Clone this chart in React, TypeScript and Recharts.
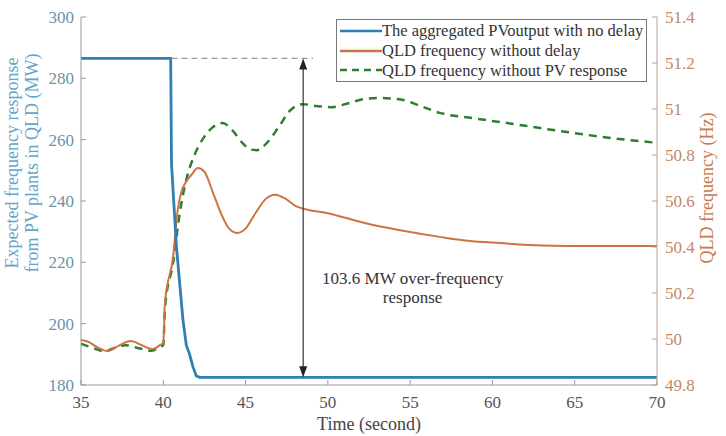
import React from 'react';
import { ComposedChart, Line, XAxis, YAxis, ReferenceLine, ReferenceDot, Legend } from 'recharts';

const X_TICKS = [35, 40, 45, 50, 55, 60, 65, 70];
const MW_TICKS = [180, 200, 220, 240, 260, 280, 300];
const HZ_TICKS = [49.8, 50, 50.2, 50.4, 50.6, 50.8, 51, 51.2, 51.4];

// Aggregated PV output (MW)
const PV_T = [35, 40.45, 40.5, 40.8, 41.0, 41.2, 41.4, 41.6, 41.8, 42.0, 42.2, 70];
const PV_MW = [286.5, 286.5, 252, 225, 213, 201, 193, 190, 186, 183, 182.5, 182.5];

// QLD frequency without delay (Hz)
const QLD_T = [35, 35.4, 36.0, 36.6, 37.3, 38.0, 38.7, 39.3, 39.8, 40.0, 40.1, 40.6, 40.85, 41.1, 41.35, 41.7, 42.1, 42.5, 43.0, 43.5, 44.0, 44.5, 45.0, 45.6, 46.2, 46.8, 47.4, 48.0, 48.9, 50, 51, 52.5, 54.4, 56.8, 58.5, 60.5, 63, 66, 70];
const QLD_HZ = [49.996, 49.989, 49.964, 49.948, 49.971, 49.991, 49.973, 49.956, 49.973, 49.983, 50.156, 50.36, 50.547, 50.64, 50.68, 50.713, 50.743, 50.727, 50.64, 50.547, 50.48, 50.461, 50.48, 50.547, 50.607, 50.627, 50.611, 50.58, 50.56, 50.547, 50.528, 50.5, 50.473, 50.444, 50.427, 50.417, 50.407, 50.404, 50.404];

// QLD frequency without PV response (Hz)
const NOPV_T = [35, 35.6, 36.4, 37.0, 37.7, 38.5, 39.3, 39.8, 40.0, 40.1, 40.6, 41.0, 41.4, 41.9, 42.5, 43.0, 43.6, 44.2, 44.8, 45.3, 45.7, 46.3, 47.0, 47.7, 48.5, 49.3, 50.2, 51.2, 52.2, 53.2, 54.5, 55.7, 56.8, 58.8, 60.9, 62.9, 64.9, 67.3, 70];
const NOPV_HZ = [49.98, 49.964, 49.947, 49.96, 49.973, 49.96, 49.949, 49.967, 49.973, 50.133, 50.333, 50.547, 50.693, 50.8, 50.88, 50.92, 50.939, 50.907, 50.853, 50.824, 50.821, 50.853, 50.92, 50.993, 51.021, 51.013, 51.008, 51.024, 51.043, 51.048, 51.04, 51.011, 50.983, 50.96, 50.939, 50.917, 50.896, 50.873, 50.853];

// Annotation values
const PV_BEFORE = 286.5;
const PV_AFTER = 182.5;
const ARROW_T = 48.5;
const DASH_START_T = 40.5;
const DASH_END_T = 49.1;
const NOTE_T = 55.15;
const NOTE_MW = 212.3;
const NOTE_LINES = ['103.6 MW over-frequency', 'response'];

const SERIES_NAMES = ['The aggregated PVoutput with no delay', 'QLD frequency without delay', 'QLD frequency without PV response'];
const BLUE = '#2f7fb3';
const ORANGE = '#cc7443';
const GREEN = '#2e7d32';

const pvData = PV_T.map((t, i) => ({ t, v: PV_MW[i] }));
const qldData = QLD_T.map((t, i) => ({ t, v: QLD_HZ[i] }));
const nopvData = NOPV_T.map((t, i) => ({ t, v: NOPV_HZ[i] }));

const FONT = '"Liberation Serif", serif';

const ArrowShape = (p: any) => {
  const x = p.x1;
  const yTop = Math.min(p.y1, p.y2);
  const yBot = Math.max(p.y1, p.y2);
  return (
    <g>
      <line x1={x} y1={yTop + 2} x2={x} y2={yBot - 2} stroke="#333" strokeWidth={1.2} />
      <polygon points={`${x},${yTop} ${x - 4},${yTop + 11} ${x + 4},${yTop + 11}`} fill="#222" />
      <polygon points={`${x},${yBot} ${x - 4},${yBot - 11} ${x + 4},${yBot - 11}`} fill="#222" />
    </g>
  );
};

const NoteShape = (p: any) => (
  <text x={p.cx} y={p.cy} textAnchor="middle" fontFamily={FONT} fontSize={17} fill="#333">
    <tspan x={p.cx} dy={-2}>{NOTE_LINES[0]}</tspan>
    <tspan x={p.cx} dy={19}>{NOTE_LINES[1]}</tspan>
  </text>
);

const LegendBox = () => {
  const items = [
    { name: SERIES_NAMES[0], color: BLUE, dash: undefined },
    { name: SERIES_NAMES[1], color: ORANGE, dash: undefined },
    { name: SERIES_NAMES[2], color: GREEN, dash: '7 5' },
  ];
  return (
    <div style={{ border: '1px solid #777', background: '#fff', padding: '1px 3px 1px 3px', fontFamily: FONT, fontSize: 16.5, color: '#333' }}>
      {items.map((it) => (
        <div key={it.name} style={{ display: 'flex', alignItems: 'center', height: 19.7, whiteSpace: 'nowrap' }}>
          <svg width={42} height={10} style={{ flex: 'none' }}>
            <line x1={0} y1={5} x2={42} y2={5} stroke={it.color} strokeWidth={2.5} strokeDasharray={it.dash} />
          </svg>
          <span style={{ lineHeight: '19px', fontFamily: FONT }}>{it.name}</span>
        </div>
      ))}
    </div>
  );
};

const LeftLabel = () => (
  <text transform="translate(22,163) rotate(-90)" textAnchor="middle" fontFamily={FONT} fontSize={18} fill="#62a4cc">
    <tspan x={0} y={-4}>Expected frequency response</tspan>
    <tspan x={0} y={16}>from PV plants in QLD (MW)</tspan>
  </text>
);

const RightLabel = () => (
  <text transform="translate(713,188) rotate(-90)" textAnchor="middle" fontFamily={FONT} fontSize={18} fill="#c8784a">
    QLD frequency (Hz)
  </text>
);

const BottomLabel = () => (
  <text x={369} y={430} textAnchor="middle" fontFamily={FONT} fontSize={18} fill="#444">
    Time (second)
  </text>
);

const fmtHz = (v: number) => String(+v.toFixed(1));

const XTick = (p: any) => (
  <text x={p.x} y={p.y} dy="0.71em" textAnchor="middle" fontFamily={FONT} fontSize={17} fill="#555">
    {p.payload.value}
  </text>
);
const LTick = (p: any) => (
  <text x={p.x} y={p.y} dy="0.35em" textAnchor="end" fontFamily={FONT} fontSize={17} fill="#6b93a8">
    {p.payload.value}
  </text>
);
const RTick = (p: any) => (
  <text x={p.x} y={p.y} dy="0.35em" textAnchor="start" fontFamily={FONT} fontSize={17} fill="#c08a68">
    {fmtHz(p.payload.value)}
  </text>
);

export default function App() {
  return (
    <div style={{ position: 'absolute', left: 0, top: 0, width: 726, height: 436, background: '#fff', fontFamily: FONT }}>
      <ComposedChart width={726} height={436} margin={{ top: 17, right: 0, left: 0, bottom: 0 }}>
        <XAxis
          xAxisId="b"
          dataKey="t"
          type="number"
          domain={[35, 70]}
          ticks={X_TICKS}
          allowDataOverflow
          height={51}
          stroke="#999"
          tickSize={-5}
          tickMargin={16}
          tick={XTick}
          label={{ content: BottomLabel }}
        />
        <XAxis
          xAxisId="top"
          orientation="top"
          type="number"
          domain={[35, 70]}
          ticks={X_TICKS}
          allowDataOverflow
          height={0}
          stroke="#999"
          tickSize={-5}
          tick={false}
        />
        <YAxis
          yAxisId="mw"
          type="number"
          domain={[180, 300]}
          ticks={MW_TICKS}
          allowDataOverflow
          width={81}
          stroke="#999"
          tickSize={-5}
          tickMargin={12}
          tick={LTick}
          label={{ content: LeftLabel }}
        />
        <YAxis
          yAxisId="hz"
          orientation="right"
          type="number"
          domain={[49.8, 51.4]}
          ticks={HZ_TICKS}
          allowDataOverflow
          width={69}
          stroke="#b9a090"
          tickSize={-5}
          tickMargin={13}
          tick={RTick}
          label={{ content: RightLabel }}
        />
        <Line xAxisId="b" yAxisId="hz" data={nopvData} dataKey="v" name={SERIES_NAMES[2]} stroke={GREEN} strokeWidth={2.5} strokeDasharray="8 6" dot={false} type="monotone" isAnimationActive={false} />
        <Line xAxisId="b" yAxisId="hz" data={qldData} dataKey="v" name={SERIES_NAMES[1]} stroke={ORANGE} strokeWidth={2} dot={false} type="monotone" isAnimationActive={false} />
        <Line xAxisId="b" yAxisId="mw" data={pvData} dataKey="v" name={SERIES_NAMES[0]} stroke={BLUE} strokeWidth={2.8} dot={false} type="linear" isAnimationActive={false} />
        <ReferenceLine xAxisId="b" yAxisId="mw" segment={[{ x: DASH_START_T, y: PV_BEFORE }, { x: DASH_END_T, y: PV_BEFORE }]} stroke="#999" strokeWidth={1.2} strokeDasharray="6 4" ifOverflow="visible" />
        <ReferenceLine xAxisId="b" yAxisId="mw" segment={[{ x: ARROW_T, y: PV_BEFORE }, { x: ARROW_T, y: PV_AFTER }]} shape={ArrowShape} ifOverflow="visible" />
        <ReferenceDot xAxisId="b" yAxisId="mw" x={NOTE_T} y={NOTE_MW} r={0} shape={NoteShape} ifOverflow="visible" />
        <Legend
          layout="horizontal"
          verticalAlign="middle"
          align="center"
          content={LegendBox}
          wrapperStyle={{ position: 'absolute', left: 336, top: 19, width: 'auto' }}
        />
      </ComposedChart>
    </div>
  );
}
